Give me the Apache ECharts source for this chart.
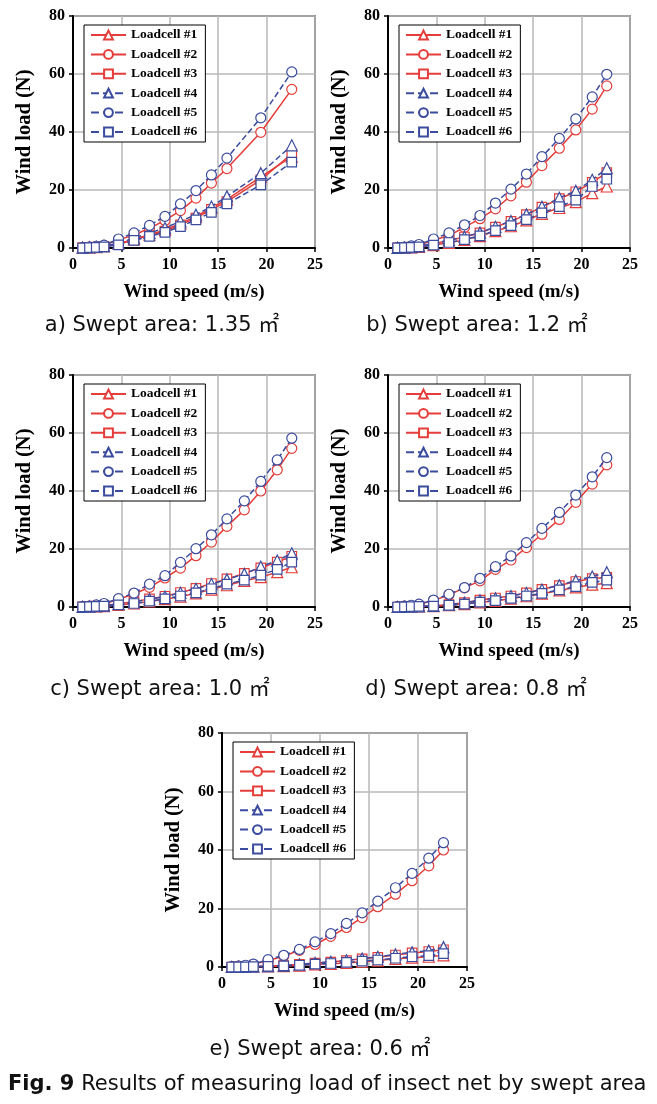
<!DOCTYPE html>
<html>
<head>
<meta charset="utf-8">
<script src="https://cdn.jsdelivr.net/npm/echarts@6/dist/echarts.min.js"></script>
<style>
html,body{margin:0;padding:0;background:#fff;}
#chart{width:657px;height:1104px;}
</style>
</head>
<body>
<div id="chart"></div>
<script>
// ---- Data ----
const seriesNames = ['Loadcell #1','Loadcell #2','Loadcell #3','Loadcell #4','Loadcell #5','Loadcell #6'];
const xTicks = [0,5,10,15,20,25];
const yTicks = [0,20,40,60,80];

// Wind speed (m/s)
const speedA = [1.0,1.7,2.4,3.2,4.7,6.3,7.9,9.5,11.1,12.7,14.3,15.9,19.4,22.6];
const speedFull = [1.0,1.7,2.4,3.2,4.7,6.3,7.9,9.5,11.1,12.7,14.3,15.9,17.7,19.4,21.1,22.6];

// a) Swept area 1.35 m2
const a1 = [0.1,0.2,0.3,0.6,1.5,3.0,4.6,6.2,8.5,10.8,13.8,16.8,24.5,31.5];
const a2 = [0.1,0.3,0.5,0.9,2.8,4.5,6.8,9.5,12.9,17.2,22.4,27.4,39.9,54.7];
const a3 = [0.1,0.2,0.3,0.5,1.3,2.8,4.3,5.8,8.0,10.3,13.3,16.0,23.5,32.5];
const a4 = [0.1,0.2,0.4,0.6,1.7,3.4,5.2,6.9,9.2,11.5,14.3,17.8,25.8,35.4];
const a5 = [0.1,0.3,0.6,1.0,3.1,5.2,7.8,10.9,15.2,19.8,25.2,31.0,44.9,60.7];
const a6 = [0.0,0.1,0.2,0.4,1.1,2.6,4.0,5.4,7.4,9.7,12.3,15.2,21.8,29.6];

// b) Swept area 1.2 m2
const b1 = [0.05,0.1,0.2,0.4,1.0,1.8,2.8,4.1,5.8,7.5,9.5,11.8,13.8,15.8,18.9,21.2];
const b2 = [0.1,0.2,0.5,1.0,2.7,4.3,7.1,10.1,13.5,18.0,22.7,28.4,34.4,40.7,47.9,55.9];
const b3 = [0.05,0.15,0.3,0.6,1.5,2.6,3.8,5.2,7.2,9.2,11.5,14.1,17.0,19.4,22.6,26.0];
const b4 = [0.05,0.15,0.3,0.6,1.6,2.7,3.9,5.3,7.3,9.3,11.6,14.2,17.3,19.7,23.5,27.5];
const b5 = [0.1,0.3,0.7,1.2,3.1,5.2,8.0,11.2,15.5,20.3,25.5,31.5,37.8,44.5,52.1,59.9];
const b6 = [0.05,0.1,0.2,0.4,1.0,1.9,2.9,4.2,6.0,7.7,9.8,12.1,14.3,16.5,21.2,23.7];

// c) Swept area 1.0 m2
const c1 = [0.05,0.1,0.2,0.3,0.7,1.2,1.9,2.7,3.6,4.7,6.0,7.5,9.0,10.3,12.0,13.7];
const c2 = [0.1,0.3,0.5,1.0,2.7,4.5,6.8,10.0,13.4,17.7,22.4,27.8,33.5,40.0,47.3,54.7];
const c3 = [0.05,0.1,0.3,0.5,1.1,1.8,2.8,3.7,5.0,6.4,8.1,9.7,11.6,13.5,15.5,17.5];
const c4 = [0.05,0.1,0.3,0.5,1.1,1.8,2.7,3.6,4.9,6.3,7.9,9.5,11.4,13.9,16.0,18.5];
const c5 = [0.1,0.3,0.7,1.2,2.9,4.8,7.9,10.8,15.4,20.1,24.9,30.4,36.6,43.3,50.7,58.2];
const c6 = [0.05,0.1,0.2,0.3,0.7,1.2,2.0,2.8,3.8,4.9,6.3,7.9,9.3,11.0,13.0,15.5];

// d) Swept area 0.8 m2
const d1 = [0.0,0.05,0.1,0.2,0.3,0.6,1.0,1.6,2.1,2.9,3.7,4.6,5.7,6.8,7.7,8.2];
const d2 = [0.1,0.3,0.5,0.9,2.2,4.2,6.6,9.0,13.0,16.2,20.5,25.1,30.2,36.1,42.4,49.0];
const d3 = [0.0,0.05,0.1,0.2,0.4,0.8,1.5,2.4,3.1,3.8,4.9,6.1,7.4,8.8,9.8,10.2];
const d4 = [0.0,0.05,0.1,0.2,0.4,0.8,1.5,2.3,3.0,3.8,4.8,6.0,7.5,9.1,10.5,12.0];
const d5 = [0.1,0.3,0.6,1.0,2.4,4.4,6.7,9.9,13.9,17.6,22.2,27.1,32.6,38.6,44.9,51.5];
const d6 = [0.0,0.05,0.1,0.2,0.3,0.6,1.0,1.7,2.2,3.0,3.8,4.7,5.9,7.0,8.5,9.3];

// e) Swept area 0.6 m2
const e1 = [0.0,0.0,0.05,0.1,0.2,0.3,0.5,0.9,1.1,1.4,1.8,2.2,2.8,3.2,3.5,4.0];
const e2 = [0.1,0.3,0.5,0.9,2.2,3.7,5.7,7.7,10.5,13.5,16.9,20.6,24.9,29.5,34.6,40.0];
const e3 = [0.0,0.05,0.05,0.1,0.3,0.5,0.9,1.3,1.7,2.2,2.8,3.3,4.1,4.8,5.3,5.9];
const e4 = [0.0,0.05,0.05,0.1,0.3,0.5,0.9,1.4,1.8,2.3,2.9,3.5,4.3,5.0,5.6,6.8];
const e5 = [0.1,0.3,0.6,1.0,2.5,4.0,6.0,8.6,11.4,14.9,18.5,22.5,27.1,32.0,37.2,42.5];
const e6 = [0.0,0.0,0.05,0.1,0.2,0.4,0.6,1.0,1.2,1.6,2.0,2.4,3.0,3.5,3.9,4.6];

const captions = ['a) Swept area: 1.35 ㎡','b) Swept area: 1.2 ㎡','c) Swept area: 1.0 ㎡','d) Swept area: 0.8 ㎡','e) Swept area: 0.6 ㎡'];
const figTitle = 'Results of measuring load of insect net by swept area';

// ---- Layout / style ----
const panels = [
  {x: speedA,    ys: [a1,a2,a3,a4,a5,a6], left: 73,  top: 16,  w: 242, h: 232, cap: [162, 326]},
  {x: speedFull, ys: [b1,b2,b3,b4,b5,b6], left: 388, top: 16,  w: 242, h: 232, cap: [477, 326]},
  {x: speedFull, ys: [c1,c2,c3,c4,c5,c6], left: 73,  top: 375, w: 242, h: 232, cap: [160, 690]},
  {x: speedFull, ys: [d1,d2,d3,d4,d5,d6], left: 388, top: 375, w: 242, h: 232, cap: [476, 690]},
  {x: speedFull, ys: [e1,e2,e3,e4,e5,e6], left: 222, top: 733, w: 245, h: 234, cap: [320, 1050]}
];
const RED = '#e43d3a', BLUE = '#3b4c9e';
const styles = [
  {color: RED,  type: 'solid',  symbol: 'triangle', size: 11},
  {color: RED,  type: 'solid',  symbol: 'circle',   size: 10},
  {color: RED,  type: 'solid',  symbol: 'rect',     size: 9.5},
  {color: BLUE, type: 'dashed', symbol: 'triangle', size: 11},
  {color: BLUE, type: 'dashed', symbol: 'circle',   size: 10},
  {color: BLUE, type: 'dashed', symbol: 'rect',     size: 9.5}
];
const SERIF = '"Liberation Serif","Times New Roman",serif';

const grid = [], xAxis = [], yAxis = [], series = [], legend = [], graphic = [];
panels.forEach((p, i) => {
  grid.push({left: p.left, top: p.top, width: p.w, height: p.h, show: true,
    borderColor: '#333', borderWidth: 1.5, backgroundColor: 'transparent'});
  xAxis.push({type: 'value', gridIndex: i, min: xTicks[0], max: xTicks[xTicks.length-1], interval: 5,
    name: 'Wind speed (m/s)', nameLocation: 'middle', nameGap: 35,
    nameTextStyle: {fontFamily: SERIF, fontWeight: 'bold', fontSize: 19, color: '#000'},
    axisLine: {show: true, onZero: false, lineStyle: {color: '#000', width: 2}},
    axisTick: {show: true, inside: false, length: 4, lineStyle: {color: '#000', width: 1.5}},
    axisLabel: {fontFamily: SERIF, fontWeight: 'bold', fontSize: 16, color: '#000', margin: 9},
    splitLine: {show: true, lineStyle: {color: '#b8b8b8', width: 1.5}}
  });
  yAxis.push({type: 'value', gridIndex: i, min: yTicks[0], max: yTicks[yTicks.length-1], interval: 20,
    name: 'Wind load (N)', nameLocation: 'middle', nameGap: 38,
    nameTextStyle: {fontFamily: SERIF, fontWeight: 'bold', fontSize: 20.5, color: '#000'},
    axisLine: {show: true, onZero: false, lineStyle: {color: '#000', width: 2}},
    axisTick: {show: true, inside: false, length: 4, lineStyle: {color: '#000', width: 1.5}},
    axisLabel: {fontFamily: SERIF, fontWeight: 'bold', fontSize: 16, color: '#000', margin: 8},
    splitLine: {show: true, lineStyle: {color: '#b8b8b8', width: 1.5}}
  });
  p.ys.forEach((arr, j) => {
    const s = styles[j];
    series.push({
      type: 'line', name: seriesNames[j], xAxisIndex: i, yAxisIndex: i,
      data: p.x.map((v, k) => [v, arr[k]]),
      symbol: s.symbol, symbolSize: s.size, showAllSymbol: true,
      lineStyle: {color: s.color, width: 1.5, type: s.type},
      itemStyle: {color: '#fff', borderColor: s.color, borderWidth: 1.2},
      emphasis: {disabled: true}, animation: false, z: 2 + j
    });
  });
  legend.push({
    left: p.left + 11, top: p.top + 9, orient: 'vertical', data: seriesNames,
    itemWidth: 35, itemHeight: 11, itemGap: 5.4,
    borderColor: '#000', borderWidth: 1, backgroundColor: '#fff',
    padding: [3, 8, 3, 6],
    textStyle: {fontFamily: SERIF, fontWeight: 'bold', fontSize: 13.5, color: '#000'},
    selectedMode: false
  });
  graphic.push({type: 'text', x: p.cap[0], y: p.cap[1],
    style: {text: captions[i], font: '21px "DejaVu Sans","Noto Sans CJK KR",sans-serif',
      fill: '#111', textAlign: 'center', textVerticalAlign: 'middle'}});
});
graphic.push({type: 'text', x: 8, y: 1085,
  style: {text: '{b|Fig. 9} ' + figTitle,
    font: '21px "DejaVu Sans",sans-serif', fill: '#111', textAlign: 'left', textVerticalAlign: 'middle',
    rich: {b: {fontWeight: 'bold', fontSize: 21, fontFamily: '"DejaVu Sans",sans-serif', fill: '#111'}}}});

const chart = echarts.init(document.getElementById('chart'), null, {renderer: 'canvas'});
chart.setOption({
  animation: false,
  backgroundColor: '#fff',
  grid, xAxis, yAxis, series, legend, graphic
});
</script>
</body>
</html>
